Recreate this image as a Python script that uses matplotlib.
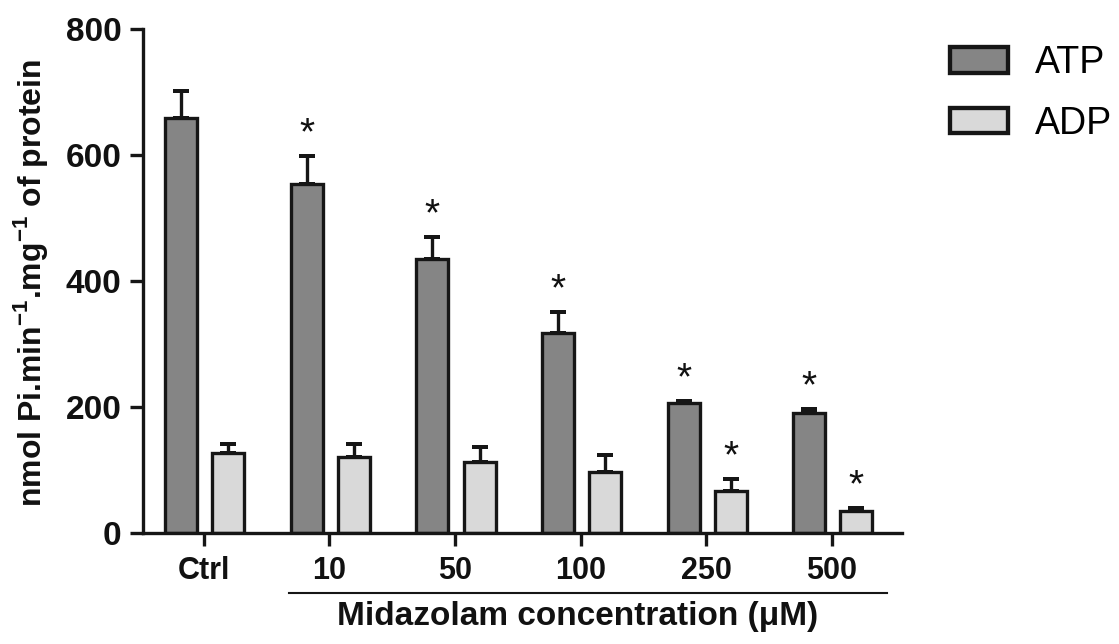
import numpy as np
import matplotlib
matplotlib.use("Agg")
from matplotlib import pyplot as plt
from matplotlib.patches import Patch

plt.rcParams['font.family'] = ['Liberation Sans', 'DejaVu Sans']
plt.rcParams['mathtext.fontset'] = 'custom'
plt.rcParams['mathtext.rm'] = 'Liberation Sans'
plt.rcParams['mathtext.bf'] = 'Liberation Sans:bold'

# data
groups = ['Ctrl', '10', '50', '100', '250', '500']
atp = [659, 554, 435, 318, 206, 191]
atp_err = [43, 44, 35, 33, 4, 6]
adp = [127, 120, 112, 96, 67, 35]
adp_err = [14, 21, 25, 28, 18, 4]
atp_sig = [False, True, True, True, True, True]
adp_sig = [False, False, False, False, True, True]

atp_color = '#858585'
adp_color = '#d9d9d9'
edge = '#161616'
lw = 2.4

fig = plt.figure(figsize=(11.19, 6.44), dpi=100)
ax = fig.add_axes([0.1278, 0.1724, 0.678, 0.7826])

x = np.arange(len(groups))
w = 0.255
x_atp = x - 0.18
x_adp = x + 0.195

ax.bar(x_atp, atp, width=w, color=atp_color, edgecolor=edge, linewidth=lw, zorder=2)
ax.bar(x_adp, adp, width=w, color=adp_color, edgecolor=edge, linewidth=lw, zorder=2)
err_kw = dict(fmt='none', ecolor=edge, elinewidth=lw, capsize=5.5, capthick=lw * 1.2, zorder=1)
ax.errorbar(x_atp, atp, yerr=[np.zeros(len(atp)), atp_err], **err_kw)
ax.errorbar(x_adp, adp, yerr=[np.zeros(len(adp)), adp_err], **err_kw)

# significance stars
for xs, vals, errs, sig in [(x_atp, atp, atp_err, atp_sig), (x_adp, adp, adp_err, adp_sig)]:
    for xi, v, e, s in zip(xs, vals, errs, sig):
        if s:
            ax.annotate('*', (xi, v + e), xytext=(0, 8.5), textcoords='offset points',
                        ha='center', va='baseline', fontsize=28, color='#111111')

ax.set_xlim(-0.484, 5.556)
ax.set_ylim(0, 800)
ax.set_yticks([0, 200, 400, 600, 800])
ax.set_xticks(x)
ax.set_xticklabels(groups)
for s in ['top', 'right']:
    ax.spines[s].set_visible(False)
for s in ['left', 'bottom']:
    ax.spines[s].set_linewidth(lw)
    ax.spines[s].set_color(edge)
ax.tick_params(axis='both', direction='out', length=9.5, width=lw, color=edge)
ax.tick_params(axis='y', labelsize=24, pad=6)
ax.tick_params(axis='x', labelsize=22, pad=7)
for lab in ax.get_xticklabels() + ax.get_yticklabels():
    lab.set_fontweight('bold')
    lab.set_color('#111111')

fig.text(31 / 1119, 1 - 283 / 644, r'nmol Pi.min$^{\mathbf{-1}}$.mg$^{\mathbf{-1}}$ of protein',
         rotation=90, ha='center', va='center', fontsize=23, fontweight='bold', color='#111111')

# bracket line under the midazolam groups
trans = ax.get_xaxis_transform()
ax.plot([0.677, 5.443], [-0.119, -0.119], transform=trans, color=edge,
        linewidth=1.5, clip_on=False)
fig.text(578 / 1119, 1 - 616 / 644, u'Midazolam concentration (\u03bcM)',
         ha='center', va='center', fontsize=24, fontweight='bold', color='#111111')

handles = [Patch(facecolor=atp_color, edgecolor=edge, linewidth=lw * 1.3),
           Patch(facecolor=adp_color, edgecolor=edge, linewidth=lw * 1.3)]
fig.legend(handles, ['ATP', 'ADP'], loc='upper left', bbox_to_anchor=(950 / 1119, 1 - 45 / 644),
           frameon=False, fontsize=27, handlelength=1.55, handleheight=0.68,
           handletextpad=0.72, labelspacing=0.66, borderpad=0, borderaxespad=0)

fig.savefig('out.png', dpi=100)
